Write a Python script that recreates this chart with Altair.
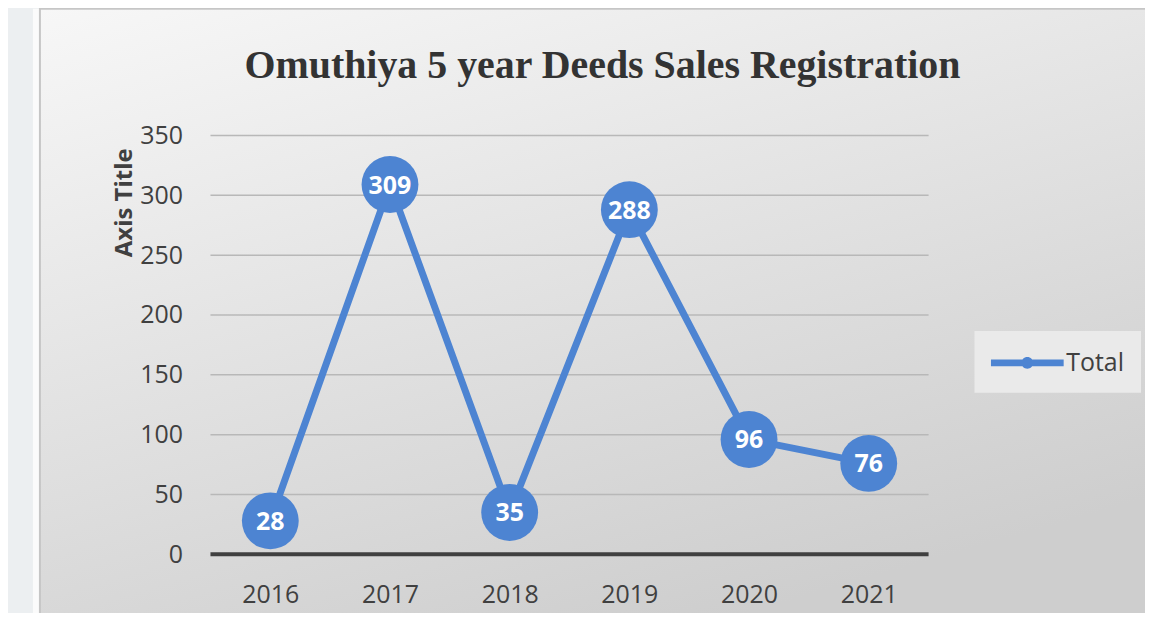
import altair as alt
import pandas as pd

years = ["2016", "2017", "2018", "2019", "2020", "2021"]
totals = [28, 309, 35, 288, 96, 76]
series = ["Total"] * 6
y_ticks = [0, 50, 100, 150, 200, 250, 300, 350]
grid_vals = [50, 100, 150, 200, 250, 300, 350]

df = pd.DataFrame({"year": years, "total": totals, "series": series})
grid_df = pd.DataFrame({"total": grid_vals})
base_df = pd.DataFrame({"total": [0]})

BLUE = "#4d84d2"
TXT = "#404040"
FONT = "Open Sans"

y_scale = alt.Scale(domain=[0, 350], nice=False, zero=True)
x_scale = alt.Scale(type="point", padding=0.5, domain=years)

y_axis = alt.Axis(values=y_ticks, title="Axis Title", grid=False, domain=False, ticks=False,
                  labelFontSize=25, labelFont=FONT, labelColor=TXT, labelPadding=28,
                  titleFontSize=24, titleFont=FONT, titleFontWeight="bold", titleColor=TXT,
                  titleX=-86, titleY=67, titleBaseline="middle", titleAngle=270, zindex=1)
x_axis = alt.Axis(title=None, labelAngle=0, labelFontSize=25, labelFont=FONT, labelColor=TXT,
                  domain=False, ticks=False, labelPadding=28, zindex=1)

strip = alt.Chart(alt.Data(values=[{"a": 1}])).mark_rect(fill="#fbfbfb").encode(
    x=alt.value(-178), x2=alt.value(-171), y=alt.value(-127), y2=alt.value(520))

bg = alt.Chart(alt.Data(values=[{"a": 1}])).mark_rect(
    fill=alt.Gradient(gradient="linear",
                      stops=[alt.GradientStop(color="#f7f7f7", offset=0),
                             alt.GradientStop(color="#cecece", offset=1)],
                      x1=0, y1=0, x2=0.5, y2=1),
    stroke="#c6c6c6", strokeWidth=2,
).encode(x=alt.value(-171), x2=alt.value(960), y=alt.value(-127), y2=alt.value(520))

grid = alt.Chart(grid_df).mark_rule(color="#b8b8b8", strokeWidth=1.5).encode(
    y=alt.Y("total:Q", scale=y_scale, axis=y_axis))
base = alt.Chart(base_df).mark_rule(color="#404040", strokeWidth=4).encode(
    y=alt.Y("total:Q", scale=y_scale, axis=y_axis))

line = alt.Chart(df).mark_line(color=BLUE, strokeWidth=7).encode(
    x=alt.X("year:O", scale=x_scale, axis=x_axis),
    y=alt.Y("total:Q", scale=y_scale, axis=y_axis))

sym = ("M-2.43,-0.233 L2.43,-0.233 L2.43,0.233 L-2.43,0.233 Z "
       "M0.4,0 A0.4,0.4 0 1,1 -0.4,0 A0.4,0.4 0 1,1 0.4,0 Z")

pts = alt.Chart(df).mark_circle(size=3249, opacity=1).encode(
    x=alt.X("year:O", scale=x_scale, axis=x_axis),
    y=alt.Y("total:Q", scale=y_scale, axis=y_axis),
    color=alt.Color("series:N", scale=alt.Scale(range=[BLUE]),
                    legend=alt.Legend(title=None, orient="none", legendX=766, legendY=196,
                                      symbolType=sym, symbolSize=900, symbolFillColor=BLUE,
                                      symbolStrokeWidth=0, symbolOpacity=1, symbolOffset=21,
                                      labelFontSize=25, labelFont=FONT, labelColor=TXT,
                                      labelOffset=24, fillColor="#eaeaea", padding=17)))

labels = alt.Chart(df).mark_text(color="white", fontSize=25, fontWeight="bold", font=FONT,
                                 baseline="middle", dy=1).encode(
    x=alt.X("year:O", scale=x_scale, axis=x_axis),
    y=alt.Y("total:Q", scale=y_scale, axis=y_axis),
    text="total:Q")

chart = alt.layer(strip, bg, grid, base, line, pts, labels).properties(
    width=720, height=420,
    title=alt.Title("Omuthiya 5 year Deeds Sales Registration", font="Liberation Serif",
                    fontSize=40, fontWeight="bold", color="#333333", dx=33, offset=-78,
                    frame="group"),
    background="#eceff1",
    padding={"left": 203, "top": 127, "right": 217, "bottom": 58},
    autosize=alt.AutoSizeParams(type="none"),
).configure_view(stroke=None)

chart.save("out.html", embed_options={"renderer": "svg", "actions": False})
